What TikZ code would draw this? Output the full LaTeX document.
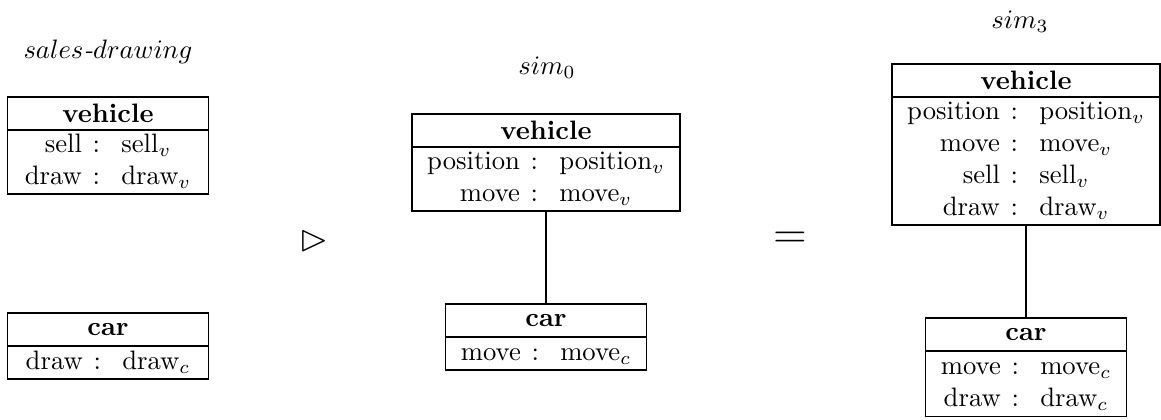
\documentclass[tikz,border=0pt]{standalone}
\usepackage{amssymb}
\usepackage{array}
\tikzset{
  classhead/.style={draw, line width=0.65pt, inner sep=0pt, outer sep=0pt,
    anchor=north, minimum height=12.4pt, font=\bfseries},
  classbody/.style={draw, line width=0.65pt, inner sep=0pt, outer sep=0pt,
    anchor=north},
  wide/.style={minimum width=100.5pt},
  narrow/.style={minimum width=75.3pt},
  link/.style={line width=0.75pt},
  caption/.style={inner sep=0pt},
}
% attribute table: right-aligned names, colon, left-aligned values
\newcommand{\attrs}[1]{\begin{tabular}{@{}r@{\hspace{4pt}:\hspace{8pt}}l@{}}#1\end{tabular}}
\begin{document}
\begin{tikzpicture}[x=0.375pt,y=-0.375pt]
\useasboundingbox (0,0) rectangle (1161,419);

% ---- sales-drawing ----
\node[caption] (tsales) at (108,52) {$sales\textit{-}drawing$};
\node[classhead, narrow] (sveh) at (108,97) {vehicle};
\node[classbody, narrow, minimum height=24pt] (svehb) at (sveh.south)
  {\attrs{sell & sell$_v$\\ draw & draw$_v$}};
\node[classhead, narrow] (scar) at (108,313) {car};
\node[classbody, narrow, minimum height=12.4pt] (scarb) at (scar.south)
  {\attrs{draw & draw$_c$}};

% ---- operator ----
\node[caption] (op1) at (314,241) {\fontsize{14}{16}\selectfont$\rhd$};

% ---- sim_0 ----
\node[caption] (tsim0) at (547,68) {$sim_0$};
\node[classhead, wide] (mveh) at (546,114) {vehicle};
\node[classbody, wide, minimum height=24pt] (mvehb) at (mveh.south)
  {\attrs{position & position$_v$\\ move & move$_v$}};
\node[classhead, narrow] (mcar) at (546,304) {car};
\node[classbody, narrow, minimum height=12.4pt] (mcarb) at (mcar.south)
  {\attrs{move & move$_c$}};
\draw[link] (mvehb.south) -- (mcar.north);

% ---- equals ----
\node[caption] (op2) at (790,240) {\fontsize{16}{18}\selectfont$=$};

% ---- sim_3 ----
\node[caption] (tsim3) at (1020,22) {$sim_3$};
\node[classhead, wide] (rveh) at (1026,64) {vehicle};
\node[classbody, wide, minimum height=48pt] (rvehb) at (rveh.south)
  {\attrs{position & position$_v$\\ move & move$_v$\\ sell & sell$_v$\\ draw & draw$_v$}};
\node[classhead, narrow] (rcar) at (1026,318) {car};
\node[classbody, narrow, minimum height=24.5pt] (rcarb) at (rcar.south)
  {\attrs{move & move$_c$\\ draw & draw$_c$}};
\draw[link] (rvehb.south) -- (rcar.north);
\end{tikzpicture}
\end{document}
